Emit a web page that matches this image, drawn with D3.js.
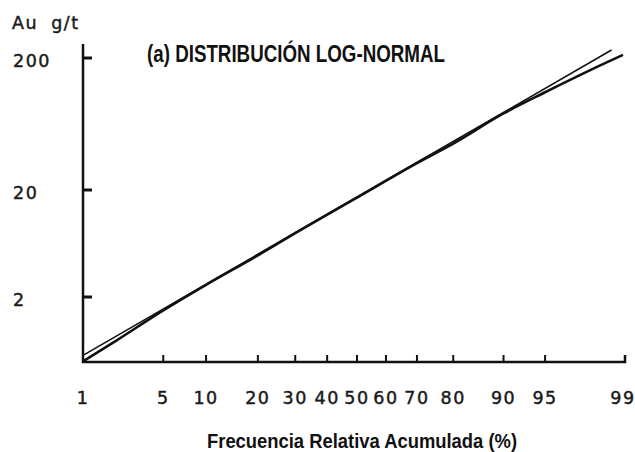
<!DOCTYPE html>
<html lang="es">
<head>
<meta charset="utf-8">
<script src="https://cdn.jsdelivr.net/npm/d3@7"></script>
<style>
  html, body { margin: 0; padding: 0; background: #fff; }
  svg { display: block; }
  .etiqueta { font-family: 'DejaVu Sans', sans-serif; font-size: 17.5px; letter-spacing: 1.5px; fill: #1a1a1a; stroke: #1a1a1a; stroke-width: 0.45px; }
  .titulo { font-family: 'Liberation Sans', Arial, sans-serif; font-weight: bold; fill: #111; }
</style>
</head>
<body>
<div id="grafico"></div>
<script>
// marcas del eje x (frecuencia acumulada, %)
const percentiles = [1, 5, 10, 20, 30, 40, 50, 60, 70, 80, 90, 95, 99];
// marcas del eje y (Au g/t)
const valoresAu = [2, 20, 200];
// recta de ajuste log-normal
const ajusteP = [1, 98.7];
const ajusteAu = [0.57, 230];
// curva de los datos
const datosP = [1, 2, 5, 10, 20, 30, 50, 70, 80, 90, 95, 98, 99];
const datosAu = [0.5, 0.77, 1.5, 2.6, 4.9, 7.9, 17, 32, 45, 76, 110, 164, 211];

const largura = 635, altura = 452;

// inversa de la normal (Acklam)
const probit = p => {
  const a = [-39.69683028665376, 220.9460984245205, -275.9285104469687, 138.3577518672690, -30.66479806614716, 2.506628277459239];
  const b = [-54.47609879822406, 161.5858368580409, -155.6989798598866, 66.80131188771972, -13.28068155288572];
  const c = [-7.784894002430293e-03, -0.3223964580411365, -2.400758277161838, -2.549732539343734, 4.374664141464968, 2.938163982698783];
  const d = [7.784695709041462e-03, 0.3224671290700398, 2.445134137142996, 3.754408661907416];
  const pl = 0.02425;
  let q, r;
  if (p < pl) {
    q = Math.sqrt(-2 * Math.log(p));
    return (((((c[0]*q+c[1])*q+c[2])*q+c[3])*q+c[4])*q+c[5]) / ((((d[0]*q+d[1])*q+d[2])*q+d[3])*q+1);
  }
  if (p <= 1 - pl) {
    q = p - 0.5; r = q * q;
    return (((((a[0]*r+a[1])*r+a[2])*r+a[3])*r+a[4])*r+a[5])*q / (((((b[0]*r+b[1])*r+b[2])*r+b[3])*r+b[4])*r+1);
  }
  q = Math.sqrt(-2 * Math.log(1 - p));
  return -(((((c[0]*q+c[1])*q+c[2])*q+c[3])*q+c[4])*q+c[5]) / ((((d[0]*q+d[1])*q+d[2])*q+d[3])*q+1);
};

const escalaZ = d3.scaleLinear()
  .domain([probit(0.01), 0, probit(0.99)])
  .range([83, 357, 623]);
const x = p => escalaZ(probit(p / 100));
const y = d3.scaleLog()
  .domain([2, 20, 200])
  .range([297, 190, 58]);

const svg = d3.select('#grafico')
  .append('svg')
  .attr('width', largura)
  .attr('height', altura)
  .attr('viewBox', '0 0 ' + largura + ' ' + altura);

const x0 = x(1), ejeY = 362;

// ejes
const ejes = svg.append('g').attr('stroke', '#111').attr('stroke-width', 2.5).attr('fill', 'none');
ejes.append('path').attr('d', `M${x0},44V${ejeY}H${x(99) + 2}V${ejeY - 7}`);
ejes.selectAll('.tx')
  .data(percentiles.slice(1, -1))
  .enter()
  .append('line')
  .attr('x1', d => x(d)).attr('x2', d => x(d))
  .attr('y1', ejeY).attr('y2', ejeY - 7)
  .attr('stroke-width', 2);
ejes.selectAll('.ty')
  .data(valoresAu)
  .enter()
  .append('line')
  .attr('x1', x0).attr('x2', x0 + 9)
  .attr('y1', d => y(d)).attr('y2', d => y(d))
  .attr('stroke-width', 3);

// etiquetas
svg.append('g')
  .selectAll('text')
  .data(percentiles)
  .enter()
  .append('text')
  .attr('class', 'etiqueta')
  .attr('x', d => x(d))
  .attr('y', 398)
  .attr('dy', '0.36em')
  .attr('text-anchor', 'middle')
  .text(d => d);
svg.append('g')
  .selectAll('text')
  .data(valoresAu)
  .enter()
  .append('text')
  .attr('class', 'etiqueta')
  .attr('x', 13)
  .attr('y', d => y(d) + 3)
  .attr('dy', '0.36em')
  .text(d => d);
svg.append('text')
  .attr('class', 'etiqueta')
  .attr('x', 12).attr('y', 23).attr('dy', '0.36em')
  .attr('word-spacing', 6)
  .text('Au g/t');

// títulos en letra estrecha
svg.append('text')
  .attr('class', 'titulo')
  .attr('x', 147).attr('y', 62)
  .attr('font-size', 23)
  .attr('textLength', 298)
  .attr('lengthAdjust', 'spacingAndGlyphs')
  .text('(a) DISTRIBUCIÓN LOG-NORMAL');
svg.append('text')
  .attr('class', 'titulo')
  .attr('x', 207).attr('y', 448)
  .attr('font-size', 20.5)
  .attr('textLength', 310)
  .attr('lengthAdjust', 'spacingAndGlyphs')
  .text('Frecuencia Relativa Acumulada (%)');

// recta de ajuste y curva de datos
const linea = d3.line()
  .x(d => x(d[0]))
  .y(d => y(d[1]));
svg.append('path')
  .datum(ajusteP.map((p, i) => [p, ajusteAu[i]]))
  .attr('d', linea)
  .attr('fill', 'none')
  .attr('stroke', '#111')
  .attr('stroke-width', 1.6);
svg.append('path')
  .datum(datosP.map((p, i) => [p, datosAu[i]]))
  .attr('d', linea.curve(d3.curveMonotoneX))
  .attr('fill', 'none')
  .attr('stroke', '#111')
  .attr('stroke-width', 2.6);
</script>
</body>
</html>
